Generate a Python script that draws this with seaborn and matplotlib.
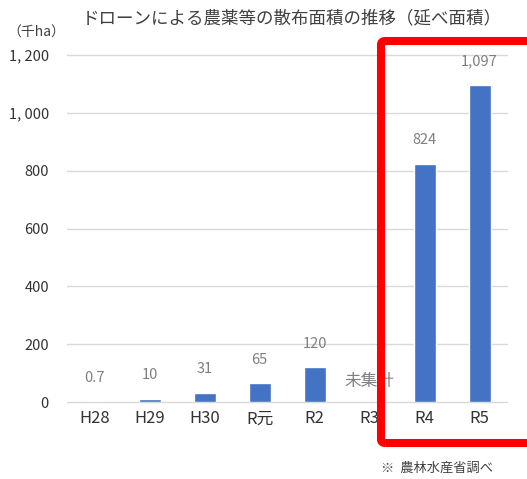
import matplotlib
matplotlib.use("Agg")
import matplotlib.pyplot as plt
from matplotlib.patches import FancyBboxPatch
import numpy as np
import pandas as pd
import seaborn as sns

# Drone pesticide spraying area by fiscal year (thousand ha, cumulative area)
years = ["H28", "H29", "H30", "R元", "R2", "R3", "R4", "R5"]
area = [0.7, 10, 31, 65, 120, np.nan, 824, 1097]
value_labels = ["0.7", "10", "31", "65", "120", "未集計", "824", "1,097"]
y_ticks = [0, 200, 400, 600, 800, 1000, 1200]
y_tick_labels = ["0", "200", "400", "600", "800", "1, 000", "1, 200"]

sns.set_theme(style="white")
plt.rcParams["font.family"] = ["Noto Sans CJK JP", "DejaVu Sans"]

df = pd.DataFrame({"year": years, "area": area})

fig = plt.figure(figsize=(5.27, 4.79), dpi=100)
W, H = 527, 479
ax = fig.add_axes([67 / W, 1 - 402 / H, 440 / W, 347 / H])

sns.barplot(data=df, x="year", y="area", color="#4472C4", saturation=1,
            width=0.4, ax=ax, zorder=3)

ax.set_ylim(0, 1200)
ax.set_xlim(-0.5, len(years) - 0.5)
ax.set_yticks(y_ticks)
ax.set_yticklabels(y_tick_labels)
ax.yaxis.grid(True, color="#d9d9d9", linewidth=1, zorder=0)
for gl in ax.get_ygridlines():
    gl.set_clip_on(False)
ax.set_axisbelow(True)
for s in ax.spines.values():
    s.set_visible(False)
ax.set_xlabel("")
ax.set_ylabel("")
ax.tick_params(axis="y", length=0, pad=13, labelsize=10.5, labelcolor="#333333")
ax.tick_params(axis="x", length=0, pad=6, labelsize=12, labelcolor="#333333")

# value labels above each bar (the missing year gets a larger note)
for i, (v, lab) in enumerate(zip(area, value_labels)):
    missing = np.isnan(v)
    base = 0 if missing else v
    ax.annotate(lab, xy=(i, base), xytext=(0, 15 if missing else 17),
                textcoords="offset points", ha="center", va="center",
                fontsize=12 if missing else 10.5, color="#7f7f7f", zorder=4)

# title, unit and source note
fig.text(292 / W, 1 - 18 / H, "ドローンによる農薬等の散布面積の推移（延べ面積）",
         ha="center", va="center", fontsize=12.6, color="#404040")
fig.text(36 / W, 1 - 33 / H, "（千ha）", ha="center", va="center",
         fontsize=10, color="#404040")
fig.text(437 / W, 1 - 468 / H, "※  農林水産省調べ", ha="center", va="center",
         fontsize=9.5, color="#404040")

# red highlight frame around the latest two years
frame = FancyBboxPatch((381 / W, 1 - 443 / H), 170 / W, 402 / H,
                       boxstyle="round,pad=0,rounding_size=0.008",
                       transform=fig.transFigure, fill=False,
                       edgecolor="#ff0000", linewidth=5.8, zorder=10,
                       clip_on=False)
fig.add_artist(frame)

fig.savefig("out.png", dpi=100)
